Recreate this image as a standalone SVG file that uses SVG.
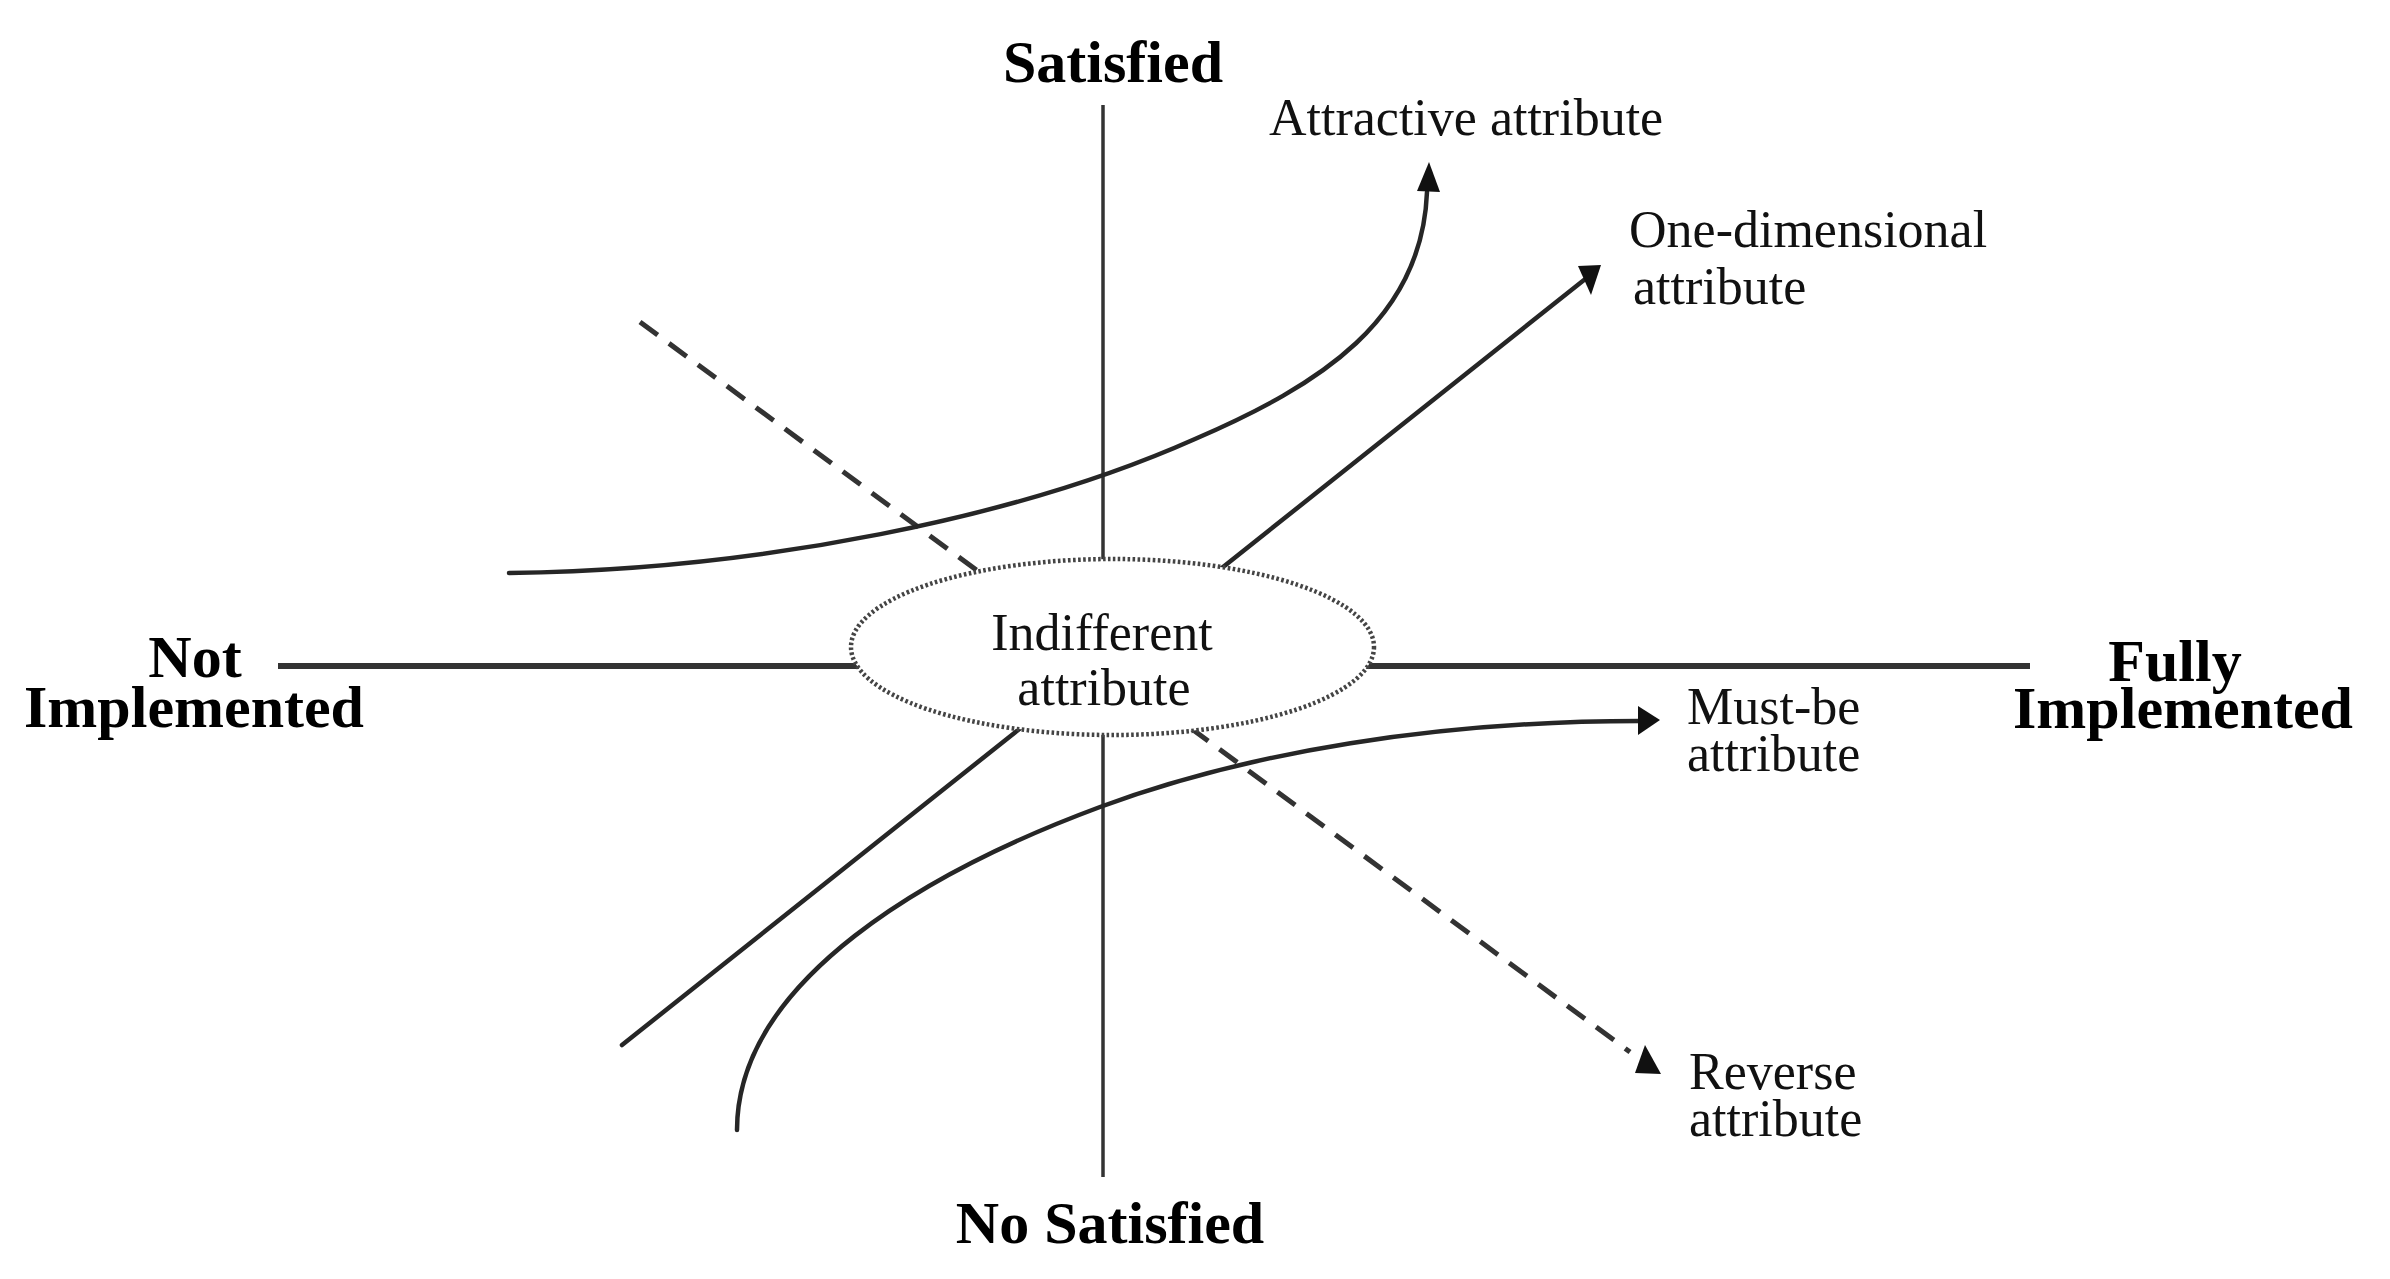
<svg xmlns="http://www.w3.org/2000/svg" width="2390" height="1279" viewBox="0 0 2390 1279">
<style>
  .axis { stroke: #333; fill: none; }
  .curve { stroke: #262626; stroke-width: 4.5; fill: none; stroke-linecap: round; }
  .dash { stroke: #333; stroke-width: 5; fill: none; stroke-dasharray: 22 14; }
  .head { fill: #111; stroke: none; }
  .big { font-family: "Liberation Serif", "Times New Roman", serif; font-weight: bold; font-size: 60px; fill: #000; text-anchor: middle; }
  .lbl { font-family: "Liberation Serif", "Times New Roman", serif; font-size: 52px; fill: #111; }
  .mid { text-anchor: middle; }
</style>
<rect width="2390" height="1279" fill="#fff"/>

<g id="axes">
  <line class="axis" x1="278" y1="666" x2="2030" y2="666" stroke-width="6"/>
  <line class="axis" x1="1103" y1="105" x2="1103" y2="1177" stroke-width="3.5"/>
</g>

<g id="connectors">
  <path id="reverse" class="dash" d="M640,322 L1630,1052"/>
  <polygon class="head" points="1645,1045 1661,1074 1635,1073"/>
  <path id="one-dimensional" class="curve" d="M622,1045 L1584,280"/>
  <polygon class="head" points="1578,266 1601,265 1591,295"/>
  <path id="attractive" class="curve" d="M509,573 C760,570 1020,517 1195,439 C1320,385 1422,320 1427,192"/>
  <polygon class="head" points="1429,162 1440,192 1417,191"/>
  <path id="must-be" class="curve" d="M737,1130 C737,980 930,870 1100,807 C1250,751.5 1438,721 1640,721"/>
  <polygon class="head" points="1638,706 1660,720 1638,735"/>
</g>

<g id="indifferent">
  <ellipse cx="1112.5" cy="647" rx="261.5" ry="88" fill="#fff" stroke="#444" stroke-width="4.5" stroke-dasharray="2.6 2.4"/>
  <text class="lbl mid" x="1102" y="650">Indifferent</text>
  <text class="lbl mid" x="1104" y="705">attribute</text>
</g>

<g id="satisfied"><text class="big" x="1113" y="82">Satisfied</text></g>
<g id="no-satisfied"><text class="big" x="1110" y="1243">No Satisfied</text></g>
<g id="not-implemented">
  <text class="big" x="195" y="677">Not</text>
  <text class="big" x="194" y="727">Implemented</text>
</g>
<g id="fully-implemented">
  <text class="big" x="2175" y="681">Fully</text>
  <text class="big" x="2183" y="728">Implemented</text>
</g>

<g id="attractive-label"><text class="lbl" x="1269" y="135">Attractive attribute</text></g>
<g id="one-dimensional-label">
  <text class="lbl" x="1629" y="247">One-dimensional</text>
  <text class="lbl" x="1633" y="304">attribute</text>
</g>
<g id="must-be-label">
  <text class="lbl" x="1687" y="724">Must-be</text>
  <text class="lbl" x="1687" y="771">attribute</text>
</g>
<g id="reverse-label">
  <text class="lbl" x="1689" y="1089">Reverse</text>
  <text class="lbl" x="1689" y="1136">attribute</text>
</g>
</svg>
